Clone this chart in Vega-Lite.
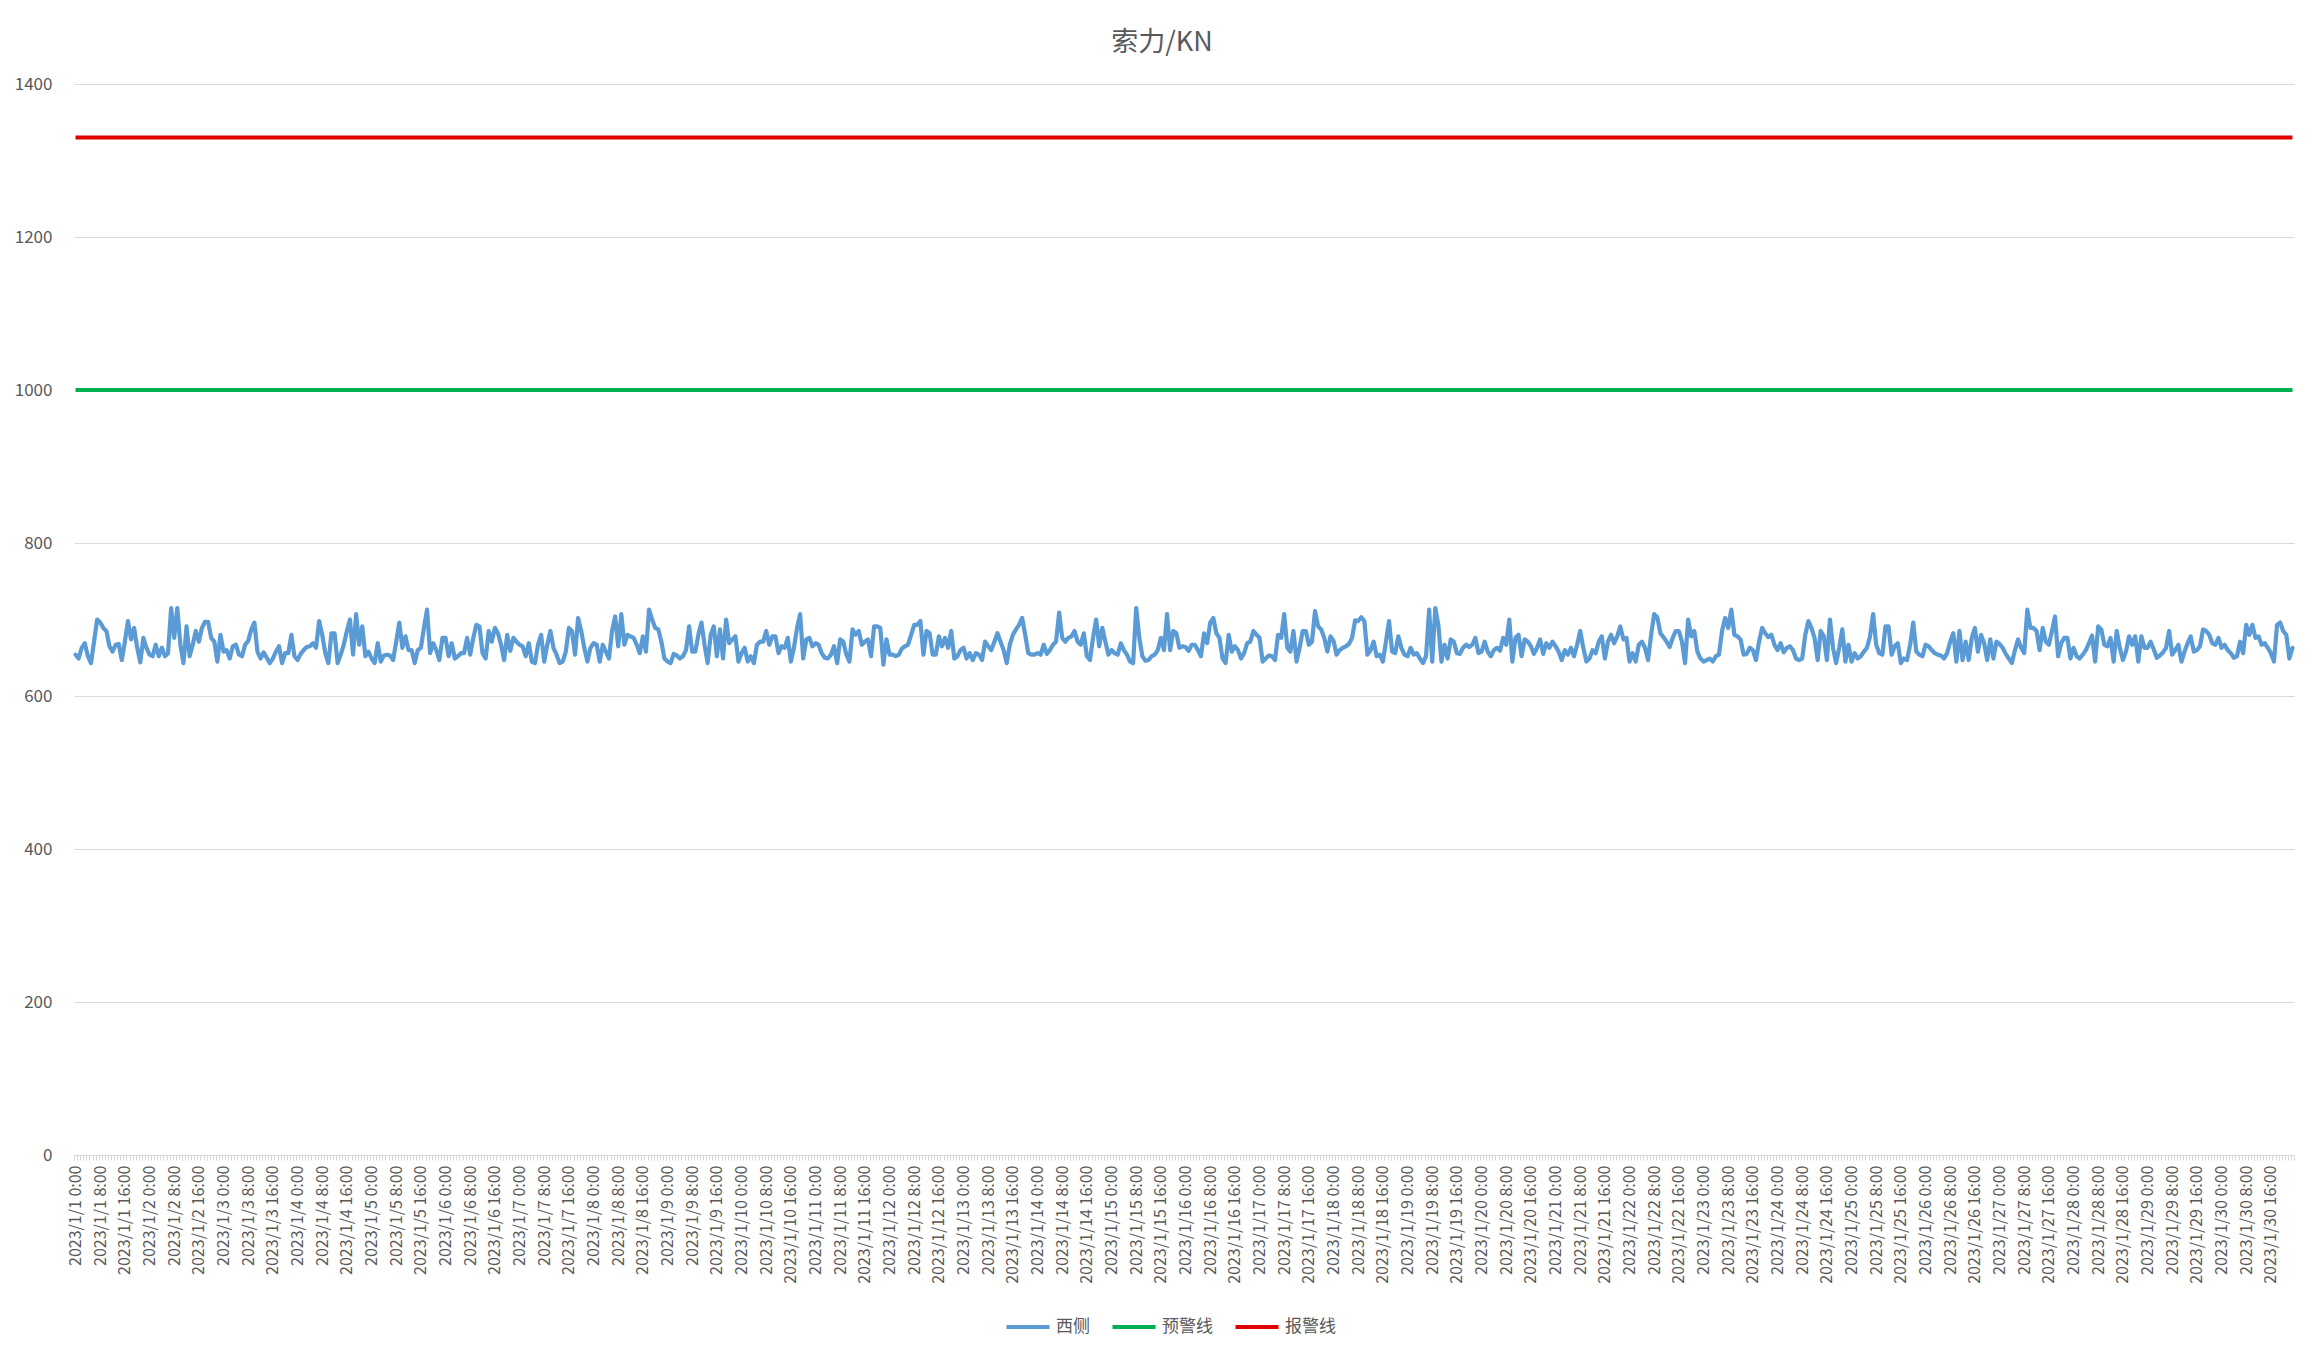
{
  "$schema": "https://vega.github.io/schema/vega-lite/v6.json",
  "autosize": {"type": "none"},
  "width": 2220,
  "height": 1071,
  "padding": {"left": 74, "top": 84, "right": 30, "bottom": 208},
  "background": "white",
  "title": {
    "text": "索力/KN",
    "font": "Noto Sans CJK SC",
    "fontSize": 27,
    "fontWeight": "normal",
    "color": "#595959",
    "anchor": "middle",
    "offset": 18,
    "dx": -22
  },
  "datasets": {
    "west": [
      {"t":"2023/1/1 0:00","v":654},{"t":"2023/1/1 1:00","v":649},{"t":"2023/1/1 2:00","v":663},{"t":"2023/1/1 3:00","v":669},{"t":"2023/1/1 4:00","v":652},{"t":"2023/1/1 5:00","v":643},{"t":"2023/1/1 6:00","v":671},{"t":"2023/1/1 7:00","v":700},{"t":"2023/1/1 8:00","v":696},{"t":"2023/1/1 9:00","v":689},{"t":"2023/1/1 10:00","v":685},{"t":"2023/1/1 11:00","v":665},{"t":"2023/1/1 12:00","v":658},{"t":"2023/1/1 13:00","v":667},{"t":"2023/1/1 14:00","v":668},{"t":"2023/1/1 15:00","v":647},{"t":"2023/1/1 16:00","v":671},{"t":"2023/1/1 17:00","v":698},{"t":"2023/1/1 18:00","v":674},{"t":"2023/1/1 19:00","v":689},{"t":"2023/1/1 20:00","v":663},{"t":"2023/1/1 21:00","v":644},{"t":"2023/1/1 22:00","v":676},{"t":"2023/1/1 23:00","v":663},
      {"t":"2023/1/2 0:00","v":654},{"t":"2023/1/2 1:00","v":652},{"t":"2023/1/2 2:00","v":667},{"t":"2023/1/2 3:00","v":652},{"t":"2023/1/2 4:00","v":663},{"t":"2023/1/2 5:00","v":652},{"t":"2023/1/2 6:00","v":656},{"t":"2023/1/2 7:00","v":715},{"t":"2023/1/2 8:00","v":676},{"t":"2023/1/2 9:00","v":715},{"t":"2023/1/2 10:00","v":667},{"t":"2023/1/2 11:00","v":643},{"t":"2023/1/2 12:00","v":691},{"t":"2023/1/2 13:00","v":652},{"t":"2023/1/2 14:00","v":667},{"t":"2023/1/2 15:00","v":685},{"t":"2023/1/2 16:00","v":671},{"t":"2023/1/2 17:00","v":689},{"t":"2023/1/2 18:00","v":697},{"t":"2023/1/2 19:00","v":697},{"t":"2023/1/2 20:00","v":676},{"t":"2023/1/2 21:00","v":671},{"t":"2023/1/2 22:00","v":645},{"t":"2023/1/2 23:00","v":680},
      {"t":"2023/1/3 0:00","v":658},{"t":"2023/1/3 1:00","v":660},{"t":"2023/1/3 2:00","v":649},{"t":"2023/1/3 3:00","v":665},{"t":"2023/1/3 4:00","v":667},{"t":"2023/1/3 5:00","v":654},{"t":"2023/1/3 6:00","v":652},{"t":"2023/1/3 7:00","v":667},{"t":"2023/1/3 8:00","v":672},{"t":"2023/1/3 9:00","v":687},{"t":"2023/1/3 10:00","v":696},{"t":"2023/1/3 11:00","v":658},{"t":"2023/1/3 12:00","v":649},{"t":"2023/1/3 13:00","v":657},{"t":"2023/1/3 14:00","v":650},{"t":"2023/1/3 15:00","v":643},{"t":"2023/1/3 16:00","v":649},{"t":"2023/1/3 17:00","v":658},{"t":"2023/1/3 18:00","v":665},{"t":"2023/1/3 19:00","v":643},{"t":"2023/1/3 20:00","v":656},{"t":"2023/1/3 21:00","v":656},{"t":"2023/1/3 22:00","v":680},{"t":"2023/1/3 23:00","v":652},
      {"t":"2023/1/4 0:00","v":647},{"t":"2023/1/4 1:00","v":655},{"t":"2023/1/4 2:00","v":660},{"t":"2023/1/4 3:00","v":664},{"t":"2023/1/4 4:00","v":665},{"t":"2023/1/4 5:00","v":669},{"t":"2023/1/4 6:00","v":663},{"t":"2023/1/4 7:00","v":698},{"t":"2023/1/4 8:00","v":680},{"t":"2023/1/4 9:00","v":656},{"t":"2023/1/4 10:00","v":643},{"t":"2023/1/4 11:00","v":682},{"t":"2023/1/4 12:00","v":682},{"t":"2023/1/4 13:00","v":643},{"t":"2023/1/4 14:00","v":654},{"t":"2023/1/4 15:00","v":667},{"t":"2023/1/4 16:00","v":685},{"t":"2023/1/4 17:00","v":700},{"t":"2023/1/4 18:00","v":654},{"t":"2023/1/4 19:00","v":707},{"t":"2023/1/4 20:00","v":667},{"t":"2023/1/4 21:00","v":691},{"t":"2023/1/4 22:00","v":652},{"t":"2023/1/4 23:00","v":658},
      {"t":"2023/1/5 0:00","v":649},{"t":"2023/1/5 1:00","v":643},{"t":"2023/1/5 2:00","v":669},{"t":"2023/1/5 3:00","v":645},{"t":"2023/1/5 4:00","v":653},{"t":"2023/1/5 5:00","v":654},{"t":"2023/1/5 6:00","v":653},{"t":"2023/1/5 7:00","v":647},{"t":"2023/1/5 8:00","v":671},{"t":"2023/1/5 9:00","v":696},{"t":"2023/1/5 10:00","v":663},{"t":"2023/1/5 11:00","v":678},{"t":"2023/1/5 12:00","v":660},{"t":"2023/1/5 13:00","v":660},{"t":"2023/1/5 14:00","v":643},{"t":"2023/1/5 15:00","v":660},{"t":"2023/1/5 16:00","v":663},{"t":"2023/1/5 17:00","v":689},{"t":"2023/1/5 18:00","v":713},{"t":"2023/1/5 19:00","v":656},{"t":"2023/1/5 20:00","v":669},{"t":"2023/1/5 21:00","v":660},{"t":"2023/1/5 22:00","v":647},{"t":"2023/1/5 23:00","v":676},
      {"t":"2023/1/6 0:00","v":676},{"t":"2023/1/6 1:00","v":652},{"t":"2023/1/6 2:00","v":669},{"t":"2023/1/6 3:00","v":649},{"t":"2023/1/6 4:00","v":652},{"t":"2023/1/6 5:00","v":656},{"t":"2023/1/6 6:00","v":656},{"t":"2023/1/6 7:00","v":676},{"t":"2023/1/6 8:00","v":654},{"t":"2023/1/6 9:00","v":676},{"t":"2023/1/6 10:00","v":693},{"t":"2023/1/6 11:00","v":691},{"t":"2023/1/6 12:00","v":656},{"t":"2023/1/6 13:00","v":649},{"t":"2023/1/6 14:00","v":685},{"t":"2023/1/6 15:00","v":671},{"t":"2023/1/6 16:00","v":689},{"t":"2023/1/6 17:00","v":682},{"t":"2023/1/6 18:00","v":667},{"t":"2023/1/6 19:00","v":647},{"t":"2023/1/6 20:00","v":680},{"t":"2023/1/6 21:00","v":659},{"t":"2023/1/6 22:00","v":676},{"t":"2023/1/6 23:00","v":671},
      {"t":"2023/1/7 0:00","v":667},{"t":"2023/1/7 1:00","v":665},{"t":"2023/1/7 2:00","v":652},{"t":"2023/1/7 3:00","v":669},{"t":"2023/1/7 4:00","v":645},{"t":"2023/1/7 5:00","v":643},{"t":"2023/1/7 6:00","v":667},{"t":"2023/1/7 7:00","v":680},{"t":"2023/1/7 8:00","v":645},{"t":"2023/1/7 9:00","v":667},{"t":"2023/1/7 10:00","v":685},{"t":"2023/1/7 11:00","v":663},{"t":"2023/1/7 12:00","v":654},{"t":"2023/1/7 13:00","v":643},{"t":"2023/1/7 14:00","v":645},{"t":"2023/1/7 15:00","v":658},{"t":"2023/1/7 16:00","v":689},{"t":"2023/1/7 17:00","v":685},{"t":"2023/1/7 18:00","v":654},{"t":"2023/1/7 19:00","v":702},{"t":"2023/1/7 20:00","v":685},{"t":"2023/1/7 21:00","v":663},{"t":"2023/1/7 22:00","v":645},{"t":"2023/1/7 23:00","v":663},
      {"t":"2023/1/8 0:00","v":669},{"t":"2023/1/8 1:00","v":667},{"t":"2023/1/8 2:00","v":645},{"t":"2023/1/8 3:00","v":667},{"t":"2023/1/8 4:00","v":658},{"t":"2023/1/8 5:00","v":649},{"t":"2023/1/8 6:00","v":685},{"t":"2023/1/8 7:00","v":704},{"t":"2023/1/8 8:00","v":665},{"t":"2023/1/8 9:00","v":707},{"t":"2023/1/8 10:00","v":667},{"t":"2023/1/8 11:00","v":680},{"t":"2023/1/8 12:00","v":678},{"t":"2023/1/8 13:00","v":676},{"t":"2023/1/8 14:00","v":667},{"t":"2023/1/8 15:00","v":656},{"t":"2023/1/8 16:00","v":678},{"t":"2023/1/8 17:00","v":658},{"t":"2023/1/8 18:00","v":713},{"t":"2023/1/8 19:00","v":700},{"t":"2023/1/8 20:00","v":689},{"t":"2023/1/8 21:00","v":687},{"t":"2023/1/8 22:00","v":671},{"t":"2023/1/8 23:00","v":649},
      {"t":"2023/1/9 0:00","v":645},{"t":"2023/1/9 1:00","v":643},{"t":"2023/1/9 2:00","v":655},{"t":"2023/1/9 3:00","v":653},{"t":"2023/1/9 4:00","v":649},{"t":"2023/1/9 5:00","v":652},{"t":"2023/1/9 6:00","v":660},{"t":"2023/1/9 7:00","v":691},{"t":"2023/1/9 8:00","v":658},{"t":"2023/1/9 9:00","v":658},{"t":"2023/1/9 10:00","v":680},{"t":"2023/1/9 11:00","v":696},{"t":"2023/1/9 12:00","v":667},{"t":"2023/1/9 13:00","v":643},{"t":"2023/1/9 14:00","v":680},{"t":"2023/1/9 15:00","v":691},{"t":"2023/1/9 16:00","v":652},{"t":"2023/1/9 17:00","v":687},{"t":"2023/1/9 18:00","v":649},{"t":"2023/1/9 19:00","v":700},{"t":"2023/1/9 20:00","v":669},{"t":"2023/1/9 21:00","v":674},{"t":"2023/1/9 22:00","v":678},{"t":"2023/1/9 23:00","v":645},
      {"t":"2023/1/10 0:00","v":656},{"t":"2023/1/10 1:00","v":663},{"t":"2023/1/10 2:00","v":645},{"t":"2023/1/10 3:00","v":652},{"t":"2023/1/10 4:00","v":643},{"t":"2023/1/10 5:00","v":667},{"t":"2023/1/10 6:00","v":671},{"t":"2023/1/10 7:00","v":671},{"t":"2023/1/10 8:00","v":685},{"t":"2023/1/10 9:00","v":667},{"t":"2023/1/10 10:00","v":678},{"t":"2023/1/10 11:00","v":678},{"t":"2023/1/10 12:00","v":656},{"t":"2023/1/10 13:00","v":665},{"t":"2023/1/10 14:00","v":663},{"t":"2023/1/10 15:00","v":676},{"t":"2023/1/10 16:00","v":645},{"t":"2023/1/10 17:00","v":663},{"t":"2023/1/10 18:00","v":689},{"t":"2023/1/10 19:00","v":707},{"t":"2023/1/10 20:00","v":649},{"t":"2023/1/10 21:00","v":674},{"t":"2023/1/10 22:00","v":676},{"t":"2023/1/10 23:00","v":665},
      {"t":"2023/1/11 0:00","v":669},{"t":"2023/1/11 1:00","v":667},{"t":"2023/1/11 2:00","v":656},{"t":"2023/1/11 3:00","v":650},{"t":"2023/1/11 4:00","v":649},{"t":"2023/1/11 5:00","v":654},{"t":"2023/1/11 6:00","v":665},{"t":"2023/1/11 7:00","v":643},{"t":"2023/1/11 8:00","v":674},{"t":"2023/1/11 9:00","v":671},{"t":"2023/1/11 10:00","v":654},{"t":"2023/1/11 11:00","v":645},{"t":"2023/1/11 12:00","v":687},{"t":"2023/1/11 13:00","v":680},{"t":"2023/1/11 14:00","v":685},{"t":"2023/1/11 15:00","v":667},{"t":"2023/1/11 16:00","v":671},{"t":"2023/1/11 17:00","v":674},{"t":"2023/1/11 18:00","v":652},{"t":"2023/1/11 19:00","v":691},{"t":"2023/1/11 20:00","v":691},{"t":"2023/1/11 21:00","v":689},{"t":"2023/1/11 22:00","v":641},{"t":"2023/1/11 23:00","v":674},
      {"t":"2023/1/12 0:00","v":654},{"t":"2023/1/12 1:00","v":654},{"t":"2023/1/12 2:00","v":652},{"t":"2023/1/12 3:00","v":654},{"t":"2023/1/12 4:00","v":662},{"t":"2023/1/12 5:00","v":665},{"t":"2023/1/12 6:00","v":667},{"t":"2023/1/12 7:00","v":680},{"t":"2023/1/12 8:00","v":693},{"t":"2023/1/12 9:00","v":693},{"t":"2023/1/12 10:00","v":698},{"t":"2023/1/12 11:00","v":654},{"t":"2023/1/12 12:00","v":685},{"t":"2023/1/12 13:00","v":682},{"t":"2023/1/12 14:00","v":654},{"t":"2023/1/12 15:00","v":654},{"t":"2023/1/12 16:00","v":678},{"t":"2023/1/12 17:00","v":665},{"t":"2023/1/12 18:00","v":676},{"t":"2023/1/12 19:00","v":663},{"t":"2023/1/12 20:00","v":685},{"t":"2023/1/12 21:00","v":649},{"t":"2023/1/12 22:00","v":652},{"t":"2023/1/12 23:00","v":660},
      {"t":"2023/1/13 0:00","v":663},{"t":"2023/1/13 1:00","v":649},{"t":"2023/1/13 2:00","v":656},{"t":"2023/1/13 3:00","v":647},{"t":"2023/1/13 4:00","v":656},{"t":"2023/1/13 5:00","v":654},{"t":"2023/1/13 6:00","v":647},{"t":"2023/1/13 7:00","v":671},{"t":"2023/1/13 8:00","v":665},{"t":"2023/1/13 9:00","v":660},{"t":"2023/1/13 10:00","v":671},{"t":"2023/1/13 11:00","v":682},{"t":"2023/1/13 12:00","v":671},{"t":"2023/1/13 13:00","v":660},{"t":"2023/1/13 14:00","v":643},{"t":"2023/1/13 15:00","v":667},{"t":"2023/1/13 16:00","v":680},{"t":"2023/1/13 17:00","v":687},{"t":"2023/1/13 18:00","v":693},{"t":"2023/1/13 19:00","v":702},{"t":"2023/1/13 20:00","v":680},{"t":"2023/1/13 21:00","v":656},{"t":"2023/1/13 22:00","v":654},{"t":"2023/1/13 23:00","v":654},
      {"t":"2023/1/14 0:00","v":656},{"t":"2023/1/14 1:00","v":654},{"t":"2023/1/14 2:00","v":667},{"t":"2023/1/14 3:00","v":655},{"t":"2023/1/14 4:00","v":660},{"t":"2023/1/14 5:00","v":667},{"t":"2023/1/14 6:00","v":671},{"t":"2023/1/14 7:00","v":709},{"t":"2023/1/14 8:00","v":676},{"t":"2023/1/14 9:00","v":671},{"t":"2023/1/14 10:00","v":676},{"t":"2023/1/14 11:00","v":678},{"t":"2023/1/14 12:00","v":685},{"t":"2023/1/14 13:00","v":671},{"t":"2023/1/14 14:00","v":667},{"t":"2023/1/14 15:00","v":682},{"t":"2023/1/14 16:00","v":652},{"t":"2023/1/14 17:00","v":647},{"t":"2023/1/14 18:00","v":676},{"t":"2023/1/14 19:00","v":700},{"t":"2023/1/14 20:00","v":665},{"t":"2023/1/14 21:00","v":689},{"t":"2023/1/14 22:00","v":671},{"t":"2023/1/14 23:00","v":654},
      {"t":"2023/1/15 0:00","v":660},{"t":"2023/1/15 1:00","v":656},{"t":"2023/1/15 2:00","v":654},{"t":"2023/1/15 3:00","v":669},{"t":"2023/1/15 4:00","v":660},{"t":"2023/1/15 5:00","v":654},{"t":"2023/1/15 6:00","v":645},{"t":"2023/1/15 7:00","v":643},{"t":"2023/1/15 8:00","v":715},{"t":"2023/1/15 9:00","v":676},{"t":"2023/1/15 10:00","v":652},{"t":"2023/1/15 11:00","v":646},{"t":"2023/1/15 12:00","v":647},{"t":"2023/1/15 13:00","v":652},{"t":"2023/1/15 14:00","v":654},{"t":"2023/1/15 15:00","v":660},{"t":"2023/1/15 16:00","v":676},{"t":"2023/1/15 17:00","v":660},{"t":"2023/1/15 18:00","v":707},{"t":"2023/1/15 19:00","v":660},{"t":"2023/1/15 20:00","v":685},{"t":"2023/1/15 21:00","v":682},{"t":"2023/1/15 22:00","v":663},{"t":"2023/1/15 23:00","v":665},
      {"t":"2023/1/16 0:00","v":664},{"t":"2023/1/16 1:00","v":659},{"t":"2023/1/16 2:00","v":667},{"t":"2023/1/16 3:00","v":667},{"t":"2023/1/16 4:00","v":660},{"t":"2023/1/16 5:00","v":652},{"t":"2023/1/16 6:00","v":682},{"t":"2023/1/16 7:00","v":669},{"t":"2023/1/16 8:00","v":696},{"t":"2023/1/16 9:00","v":702},{"t":"2023/1/16 10:00","v":682},{"t":"2023/1/16 11:00","v":676},{"t":"2023/1/16 12:00","v":649},{"t":"2023/1/16 13:00","v":643},{"t":"2023/1/16 14:00","v":680},{"t":"2023/1/16 15:00","v":658},{"t":"2023/1/16 16:00","v":665},{"t":"2023/1/16 17:00","v":660},{"t":"2023/1/16 18:00","v":649},{"t":"2023/1/16 19:00","v":656},{"t":"2023/1/16 20:00","v":669},{"t":"2023/1/16 21:00","v":671},{"t":"2023/1/16 22:00","v":685},{"t":"2023/1/16 23:00","v":680},
      {"t":"2023/1/17 0:00","v":676},{"t":"2023/1/17 1:00","v":645},{"t":"2023/1/17 2:00","v":649},{"t":"2023/1/17 3:00","v":653},{"t":"2023/1/17 4:00","v":652},{"t":"2023/1/17 5:00","v":647},{"t":"2023/1/17 6:00","v":680},{"t":"2023/1/17 7:00","v":676},{"t":"2023/1/17 8:00","v":707},{"t":"2023/1/17 9:00","v":663},{"t":"2023/1/17 10:00","v":658},{"t":"2023/1/17 11:00","v":685},{"t":"2023/1/17 12:00","v":645},{"t":"2023/1/17 13:00","v":663},{"t":"2023/1/17 14:00","v":685},{"t":"2023/1/17 15:00","v":685},{"t":"2023/1/17 16:00","v":667},{"t":"2023/1/17 17:00","v":671},{"t":"2023/1/17 18:00","v":711},{"t":"2023/1/17 19:00","v":691},{"t":"2023/1/17 20:00","v":687},{"t":"2023/1/17 21:00","v":676},{"t":"2023/1/17 22:00","v":658},{"t":"2023/1/17 23:00","v":678},
      {"t":"2023/1/18 0:00","v":672},{"t":"2023/1/18 1:00","v":654},{"t":"2023/1/18 2:00","v":660},{"t":"2023/1/18 3:00","v":663},{"t":"2023/1/18 4:00","v":665},{"t":"2023/1/18 5:00","v":668},{"t":"2023/1/18 6:00","v":676},{"t":"2023/1/18 7:00","v":699},{"t":"2023/1/18 8:00","v":698},{"t":"2023/1/18 9:00","v":703},{"t":"2023/1/18 10:00","v":698},{"t":"2023/1/18 11:00","v":654},{"t":"2023/1/18 12:00","v":660},{"t":"2023/1/18 13:00","v":671},{"t":"2023/1/18 14:00","v":652},{"t":"2023/1/18 15:00","v":654},{"t":"2023/1/18 16:00","v":645},{"t":"2023/1/18 17:00","v":671},{"t":"2023/1/18 18:00","v":698},{"t":"2023/1/18 19:00","v":658},{"t":"2023/1/18 20:00","v":656},{"t":"2023/1/18 21:00","v":678},{"t":"2023/1/18 22:00","v":663},{"t":"2023/1/18 23:00","v":654},
      {"t":"2023/1/19 0:00","v":652},{"t":"2023/1/19 1:00","v":663},{"t":"2023/1/19 2:00","v":654},{"t":"2023/1/19 3:00","v":656},{"t":"2023/1/19 4:00","v":649},{"t":"2023/1/19 5:00","v":643},{"t":"2023/1/19 6:00","v":652},{"t":"2023/1/19 7:00","v":713},{"t":"2023/1/19 8:00","v":645},{"t":"2023/1/19 9:00","v":715},{"t":"2023/1/19 10:00","v":693},{"t":"2023/1/19 11:00","v":645},{"t":"2023/1/19 12:00","v":667},{"t":"2023/1/19 13:00","v":649},{"t":"2023/1/19 14:00","v":674},{"t":"2023/1/19 15:00","v":671},{"t":"2023/1/19 16:00","v":656},{"t":"2023/1/19 17:00","v":655},{"t":"2023/1/19 18:00","v":663},{"t":"2023/1/19 19:00","v":667},{"t":"2023/1/19 20:00","v":664},{"t":"2023/1/19 21:00","v":667},{"t":"2023/1/19 22:00","v":676},{"t":"2023/1/19 23:00","v":656},
      {"t":"2023/1/20 0:00","v":658},{"t":"2023/1/20 1:00","v":671},{"t":"2023/1/20 2:00","v":658},{"t":"2023/1/20 3:00","v":652},{"t":"2023/1/20 4:00","v":660},{"t":"2023/1/20 5:00","v":663},{"t":"2023/1/20 6:00","v":659},{"t":"2023/1/20 7:00","v":676},{"t":"2023/1/20 8:00","v":667},{"t":"2023/1/20 9:00","v":700},{"t":"2023/1/20 10:00","v":645},{"t":"2023/1/20 11:00","v":676},{"t":"2023/1/20 12:00","v":680},{"t":"2023/1/20 13:00","v":652},{"t":"2023/1/20 14:00","v":674},{"t":"2023/1/20 15:00","v":671},{"t":"2023/1/20 16:00","v":665},{"t":"2023/1/20 17:00","v":655},{"t":"2023/1/20 18:00","v":663},{"t":"2023/1/20 19:00","v":674},{"t":"2023/1/20 20:00","v":655},{"t":"2023/1/20 21:00","v":669},{"t":"2023/1/20 22:00","v":663},{"t":"2023/1/20 23:00","v":671},
      {"t":"2023/1/21 0:00","v":665},{"t":"2023/1/21 1:00","v":658},{"t":"2023/1/21 2:00","v":647},{"t":"2023/1/21 3:00","v":660},{"t":"2023/1/21 4:00","v":654},{"t":"2023/1/21 5:00","v":663},{"t":"2023/1/21 6:00","v":652},{"t":"2023/1/21 7:00","v":667},{"t":"2023/1/21 8:00","v":685},{"t":"2023/1/21 9:00","v":663},{"t":"2023/1/21 10:00","v":645},{"t":"2023/1/21 11:00","v":649},{"t":"2023/1/21 12:00","v":660},{"t":"2023/1/21 13:00","v":656},{"t":"2023/1/21 14:00","v":671},{"t":"2023/1/21 15:00","v":678},{"t":"2023/1/21 16:00","v":649},{"t":"2023/1/21 17:00","v":671},{"t":"2023/1/21 18:00","v":680},{"t":"2023/1/21 19:00","v":669},{"t":"2023/1/21 20:00","v":678},{"t":"2023/1/21 21:00","v":691},{"t":"2023/1/21 22:00","v":674},{"t":"2023/1/21 23:00","v":676},
      {"t":"2023/1/22 0:00","v":645},{"t":"2023/1/22 1:00","v":656},{"t":"2023/1/22 2:00","v":645},{"t":"2023/1/22 3:00","v":667},{"t":"2023/1/22 4:00","v":671},{"t":"2023/1/22 5:00","v":663},{"t":"2023/1/22 6:00","v":647},{"t":"2023/1/22 7:00","v":680},{"t":"2023/1/22 8:00","v":707},{"t":"2023/1/22 9:00","v":703},{"t":"2023/1/22 10:00","v":682},{"t":"2023/1/22 11:00","v":677},{"t":"2023/1/22 12:00","v":671},{"t":"2023/1/22 13:00","v":664},{"t":"2023/1/22 14:00","v":676},{"t":"2023/1/22 15:00","v":685},{"t":"2023/1/22 16:00","v":685},{"t":"2023/1/22 17:00","v":671},{"t":"2023/1/22 18:00","v":643},{"t":"2023/1/22 19:00","v":700},{"t":"2023/1/22 20:00","v":678},{"t":"2023/1/22 21:00","v":685},{"t":"2023/1/22 22:00","v":658},{"t":"2023/1/22 23:00","v":649},
      {"t":"2023/1/23 0:00","v":645},{"t":"2023/1/23 1:00","v":647},{"t":"2023/1/23 2:00","v":649},{"t":"2023/1/23 3:00","v":645},{"t":"2023/1/23 4:00","v":652},{"t":"2023/1/23 5:00","v":654},{"t":"2023/1/23 6:00","v":685},{"t":"2023/1/23 7:00","v":702},{"t":"2023/1/23 8:00","v":689},{"t":"2023/1/23 9:00","v":713},{"t":"2023/1/23 10:00","v":680},{"t":"2023/1/23 11:00","v":678},{"t":"2023/1/23 12:00","v":674},{"t":"2023/1/23 13:00","v":654},{"t":"2023/1/23 14:00","v":655},{"t":"2023/1/23 15:00","v":663},{"t":"2023/1/23 16:00","v":660},{"t":"2023/1/23 17:00","v":647},{"t":"2023/1/23 18:00","v":671},{"t":"2023/1/23 19:00","v":689},{"t":"2023/1/23 20:00","v":682},{"t":"2023/1/23 21:00","v":677},{"t":"2023/1/23 22:00","v":680},{"t":"2023/1/23 23:00","v":667},
      {"t":"2023/1/24 0:00","v":660},{"t":"2023/1/24 1:00","v":669},{"t":"2023/1/24 2:00","v":657},{"t":"2023/1/24 3:00","v":663},{"t":"2023/1/24 4:00","v":665},{"t":"2023/1/24 5:00","v":660},{"t":"2023/1/24 6:00","v":649},{"t":"2023/1/24 7:00","v":647},{"t":"2023/1/24 8:00","v":649},{"t":"2023/1/24 9:00","v":680},{"t":"2023/1/24 10:00","v":698},{"t":"2023/1/24 11:00","v":689},{"t":"2023/1/24 12:00","v":676},{"t":"2023/1/24 13:00","v":647},{"t":"2023/1/24 14:00","v":685},{"t":"2023/1/24 15:00","v":678},{"t":"2023/1/24 16:00","v":647},{"t":"2023/1/24 17:00","v":700},{"t":"2023/1/24 18:00","v":663},{"t":"2023/1/24 19:00","v":643},{"t":"2023/1/24 20:00","v":663},{"t":"2023/1/24 21:00","v":687},{"t":"2023/1/24 22:00","v":645},{"t":"2023/1/24 23:00","v":667},
      {"t":"2023/1/25 0:00","v":645},{"t":"2023/1/25 1:00","v":656},{"t":"2023/1/25 2:00","v":649},{"t":"2023/1/25 3:00","v":652},{"t":"2023/1/25 4:00","v":658},{"t":"2023/1/25 5:00","v":663},{"t":"2023/1/25 6:00","v":678},{"t":"2023/1/25 7:00","v":707},{"t":"2023/1/25 8:00","v":667},{"t":"2023/1/25 9:00","v":656},{"t":"2023/1/25 10:00","v":654},{"t":"2023/1/25 11:00","v":691},{"t":"2023/1/25 12:00","v":691},{"t":"2023/1/25 13:00","v":654},{"t":"2023/1/25 14:00","v":665},{"t":"2023/1/25 15:00","v":669},{"t":"2023/1/25 16:00","v":643},{"t":"2023/1/25 17:00","v":649},{"t":"2023/1/25 18:00","v":647},{"t":"2023/1/25 19:00","v":667},{"t":"2023/1/25 20:00","v":696},{"t":"2023/1/25 21:00","v":658},{"t":"2023/1/25 22:00","v":654},{"t":"2023/1/25 23:00","v":652},
      {"t":"2023/1/26 0:00","v":667},{"t":"2023/1/26 1:00","v":665},{"t":"2023/1/26 2:00","v":660},{"t":"2023/1/26 3:00","v":656},{"t":"2023/1/26 4:00","v":654},{"t":"2023/1/26 5:00","v":653},{"t":"2023/1/26 6:00","v":649},{"t":"2023/1/26 7:00","v":656},{"t":"2023/1/26 8:00","v":671},{"t":"2023/1/26 9:00","v":682},{"t":"2023/1/26 10:00","v":645},{"t":"2023/1/26 11:00","v":685},{"t":"2023/1/26 12:00","v":647},{"t":"2023/1/26 13:00","v":671},{"t":"2023/1/26 14:00","v":647},{"t":"2023/1/26 15:00","v":676},{"t":"2023/1/26 16:00","v":689},{"t":"2023/1/26 17:00","v":658},{"t":"2023/1/26 18:00","v":680},{"t":"2023/1/26 19:00","v":669},{"t":"2023/1/26 20:00","v":647},{"t":"2023/1/26 21:00","v":674},{"t":"2023/1/26 22:00","v":649},{"t":"2023/1/26 23:00","v":671},
      {"t":"2023/1/27 0:00","v":668},{"t":"2023/1/27 1:00","v":663},{"t":"2023/1/27 2:00","v":655},{"t":"2023/1/27 3:00","v":649},{"t":"2023/1/27 4:00","v":643},{"t":"2023/1/27 5:00","v":660},{"t":"2023/1/27 6:00","v":674},{"t":"2023/1/27 7:00","v":663},{"t":"2023/1/27 8:00","v":656},{"t":"2023/1/27 9:00","v":713},{"t":"2023/1/27 10:00","v":689},{"t":"2023/1/27 11:00","v":689},{"t":"2023/1/27 12:00","v":685},{"t":"2023/1/27 13:00","v":660},{"t":"2023/1/27 14:00","v":689},{"t":"2023/1/27 15:00","v":671},{"t":"2023/1/27 16:00","v":667},{"t":"2023/1/27 17:00","v":685},{"t":"2023/1/27 18:00","v":704},{"t":"2023/1/27 19:00","v":652},{"t":"2023/1/27 20:00","v":669},{"t":"2023/1/27 21:00","v":676},{"t":"2023/1/27 22:00","v":676},{"t":"2023/1/27 23:00","v":649},
      {"t":"2023/1/28 0:00","v":663},{"t":"2023/1/28 1:00","v":652},{"t":"2023/1/28 2:00","v":649},{"t":"2023/1/28 3:00","v":654},{"t":"2023/1/28 4:00","v":660},{"t":"2023/1/28 5:00","v":669},{"t":"2023/1/28 6:00","v":679},{"t":"2023/1/28 7:00","v":645},{"t":"2023/1/28 8:00","v":691},{"t":"2023/1/28 9:00","v":687},{"t":"2023/1/28 10:00","v":667},{"t":"2023/1/28 11:00","v":665},{"t":"2023/1/28 12:00","v":676},{"t":"2023/1/28 13:00","v":645},{"t":"2023/1/28 14:00","v":685},{"t":"2023/1/28 15:00","v":663},{"t":"2023/1/28 16:00","v":647},{"t":"2023/1/28 17:00","v":658},{"t":"2023/1/28 18:00","v":678},{"t":"2023/1/28 19:00","v":667},{"t":"2023/1/28 20:00","v":678},{"t":"2023/1/28 21:00","v":645},{"t":"2023/1/28 22:00","v":678},{"t":"2023/1/28 23:00","v":663},
      {"t":"2023/1/29 0:00","v":663},{"t":"2023/1/29 1:00","v":671},{"t":"2023/1/29 2:00","v":661},{"t":"2023/1/29 3:00","v":650},{"t":"2023/1/29 4:00","v":653},{"t":"2023/1/29 5:00","v":657},{"t":"2023/1/29 6:00","v":663},{"t":"2023/1/29 7:00","v":685},{"t":"2023/1/29 8:00","v":654},{"t":"2023/1/29 9:00","v":660},{"t":"2023/1/29 10:00","v":667},{"t":"2023/1/29 11:00","v":645},{"t":"2023/1/29 12:00","v":658},{"t":"2023/1/29 13:00","v":669},{"t":"2023/1/29 14:00","v":678},{"t":"2023/1/29 15:00","v":658},{"t":"2023/1/29 16:00","v":660},{"t":"2023/1/29 17:00","v":665},{"t":"2023/1/29 18:00","v":687},{"t":"2023/1/29 19:00","v":685},{"t":"2023/1/29 20:00","v":680},{"t":"2023/1/29 21:00","v":669},{"t":"2023/1/29 22:00","v":667},{"t":"2023/1/29 23:00","v":676},
      {"t":"2023/1/30 0:00","v":663},{"t":"2023/1/30 1:00","v":667},{"t":"2023/1/30 2:00","v":660},{"t":"2023/1/30 3:00","v":656},{"t":"2023/1/30 4:00","v":650},{"t":"2023/1/30 5:00","v":652},{"t":"2023/1/30 6:00","v":671},{"t":"2023/1/30 7:00","v":656},{"t":"2023/1/30 8:00","v":693},{"t":"2023/1/30 9:00","v":680},{"t":"2023/1/30 10:00","v":693},{"t":"2023/1/30 11:00","v":676},{"t":"2023/1/30 12:00","v":678},{"t":"2023/1/30 13:00","v":667},{"t":"2023/1/30 14:00","v":669},{"t":"2023/1/30 15:00","v":663},{"t":"2023/1/30 16:00","v":656},{"t":"2023/1/30 17:00","v":645},{"t":"2023/1/30 18:00","v":693},{"t":"2023/1/30 19:00","v":696},{"t":"2023/1/30 20:00","v":685},{"t":"2023/1/30 21:00","v":680},{"t":"2023/1/30 22:00","v":649},{"t":"2023/1/30 23:00","v":663}
    ],
    "limits": [
      {"t": "2023/1/1 0:00", "s": "预警线", "v": 1000},
      {"t": "2023/1/30 23:00", "s": "预警线", "v": 1000},
      {"t": "2023/1/1 0:00", "s": "报警线", "v": 1330},
      {"t": "2023/1/30 23:00", "s": "报警线", "v": 1330}
    ]
  },
  "layer": [
    {
      "data": {"name": "west"},
      "mark": {"type": "line", "strokeWidth": 4.2, "strokeJoin": "round", "strokeCap": "round"},
      "encoding": {
        "x": {
          "field": "t",
          "type": "ordinal",
          "sort": null,
          "bandPosition": 0.5,
          "scale": {"type": "band", "paddingInner": 0, "paddingOuter": 0},
          "axis": {
            "title": null,
            "labelAngle": -90,
            "labelAlign": "right",
            "labelBaseline": "middle",
            "labelExpr": "test(/ (0|8|16):00$/, datum.value) ? datum.value : ''",
            "labelOverlap": false,
            "labelBound": false,
            "labelFont": "Noto Sans CJK SC",
            "labelFontSize": 16,
            "labelColor": "#595959",
            "labelPadding": 5,
            "tickBand": "extent",
            "tickColor": "#D9D9D9",
            "tickSize": 5,
            "domainColor": "#D9D9D9",
            "grid": false
          }
        },
        "y": {
          "field": "v",
          "type": "quantitative",
          "scale": {"domain": [0, 1400], "nice": false},
          "axis": {
            "title": null,
            "values": [0, 200, 400, 600, 800, 1000, 1200, 1400],
            "format": "d",
            "domain": false,
            "ticks": false,
            "labelPadding": 22,
            "labelFont": "Noto Sans CJK SC",
            "labelFontSize": 17,
            "labelColor": "#595959",
            "gridColor": "#D9D9D9"
          }
        },
        "color": {
          "datum": "西侧",
          "type": "nominal",
          "title": null,
          "scale": {
            "domain": ["西侧", "预警线", "报警线"],
            "range": ["#5B9BD5", "#00B050", "#E00000"]
          },
          "legend": {
            "title": null,
            "orient": "none",
            "direction": "horizontal",
            "legendX": 930,
            "legendY": 1219,
            "symbolType": "stroke",
            "symbolStrokeWidth": 4,
            "symbolSize": 1850,
            "labelFont": "Noto Sans CJK SC",
            "labelFontSize": 17,
            "labelColor": "#595959",
            "labelOffset": 4,
            "columnPadding": 14
          }
        }
      }
    },
    {
      "data": {"name": "limits"},
      "mark": {"type": "line", "strokeWidth": 4, "strokeCap": "butt"},
      "encoding": {
        "x": {"field": "t", "type": "ordinal", "sort": null, "bandPosition": 0.5},
        "y": {"field": "v", "type": "quantitative"},
        "color": {"field": "s", "type": "nominal", "title": null}
      }
    }
  ],
  "config": {
    "view": {"stroke": null},
    "font": "Noto Sans CJK SC",
    "legend": {"title": null}
  }
}
